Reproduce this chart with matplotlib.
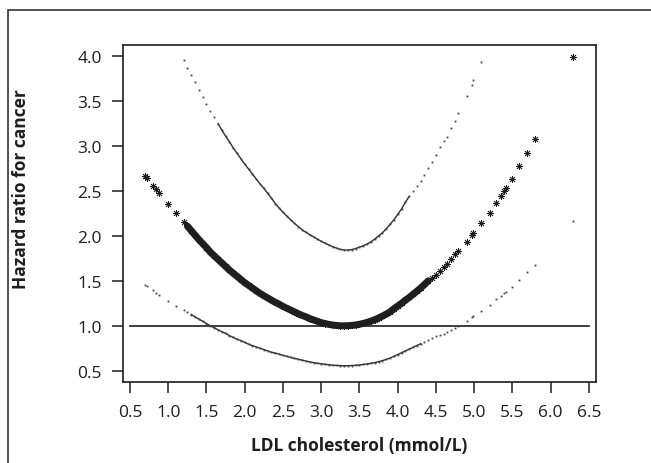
import numpy as np
import matplotlib
matplotlib.use("Agg")
import matplotlib.pyplot as plt
from matplotlib.patches import Rectangle

plt.rcParams['font.family'] = ['Open Sans', 'DejaVu Sans']

# LDL cholesterol values (mmol/L)
ldl = [0.70, 0.72, 0.80, 0.84, 0.88, 1.00, 1.10, 1.20,
       1.25, 1.30, 1.35, 1.40, 1.45, 1.50, 1.55, 1.60, 1.65, 1.70, 1.75, 1.80,
       1.85, 1.90, 1.95, 2.00, 2.05, 2.10, 2.15, 2.20, 2.25, 2.30, 2.35, 2.40,
       2.45, 2.50, 2.55, 2.60, 2.65, 2.70, 2.75, 2.80, 2.85, 2.90, 2.95, 3.00,
       3.05, 3.10, 3.15, 3.20, 3.25, 3.30, 3.35, 3.40, 3.45, 3.50, 3.55, 3.60,
       3.65, 3.70, 3.75, 3.80, 3.85, 3.90, 3.95, 4.00, 4.05, 4.10, 4.15, 4.20,
       4.25, 4.30, 4.35, 4.40, 4.45, 4.50, 4.55, 4.60, 4.64, 4.70, 4.75, 4.79,
       4.90, 4.97, 4.99, 5.09, 5.20, 5.29, 5.35, 5.39, 5.42, 5.49, 5.59, 5.69,
       5.79, 6.29]

# Hazard ratio (point estimate)
hr = [2.67, 2.65, 2.56, 2.52, 2.48, 2.355, 2.255, 2.16,
      2.11, 2.06, 2.01, 1.96, 1.915, 1.87, 1.82, 1.78, 1.74, 1.70, 1.66, 1.62,
      1.585, 1.55, 1.515, 1.48, 1.45, 1.42, 1.39, 1.36, 1.335, 1.31, 1.285, 1.26,
      1.24, 1.215, 1.195, 1.175, 1.155, 1.135, 1.115, 1.10, 1.08, 1.065, 1.05, 1.035,
      1.025, 1.015, 1.008, 1.003, 1.0, 1.0, 1.001, 1.004, 1.009, 1.017, 1.026, 1.038,
      1.052, 1.068, 1.087, 1.107, 1.130, 1.155, 1.190, 1.22, 1.25, 1.285, 1.315, 1.35,
      1.385, 1.42, 1.46, 1.50, 1.535, 1.57, 1.615, 1.655, 1.687, 1.743, 1.80, 1.835,
      1.935, 2.01, 2.03, 2.14, 2.255, 2.37, 2.44, 2.50, 2.53, 2.63, 2.775, 2.92,
      3.075, 3.99]

# Lower 95% CI
lower = [1.45, 1.44, 1.40, 1.37, 1.34, 1.28, 1.22, 1.175,
         1.15, 1.125, 1.10, 1.075, 1.05, 1.025, 1.0, 0.98, 0.955, 0.935, 0.915, 0.89,
         0.87, 0.85, 0.835, 0.815, 0.795, 0.78, 0.765, 0.75, 0.735, 0.72, 0.705, 0.695,
         0.685, 0.67, 0.66, 0.648, 0.637, 0.627, 0.617, 0.607, 0.598, 0.59, 0.583, 0.577,
         0.571, 0.566, 0.562, 0.558, 0.556, 0.555, 0.555, 0.557, 0.56, 0.564, 0.569, 0.575,
         0.582, 0.59, 0.60, 0.612, 0.625, 0.64, 0.66, 0.68, 0.70, 0.72, 0.74, 0.76,
         0.78, 0.80, 0.82, 0.845, 0.865, 0.885, 0.90, 0.91, 0.926, 0.955, 0.98, 0.993,
         1.056, 1.095, 1.105, 1.167, 1.23, 1.297, 1.334, 1.365, 1.38, 1.434, 1.512, 1.595,
         1.676, 2.17]

nan = float('nan')
# Upper 95% CI (nan = outside plotted range)
upper = [nan, nan, nan, nan, nan, nan, nan, 3.96,
         3.87, 3.79, 3.71, 3.63, 3.55, 3.47, 3.39, 3.32, 3.25, 3.18, 3.11, 3.05,
         2.98, 2.92, 2.86, 2.80, 2.745, 2.69, 2.635, 2.58, 2.53, 2.475, 2.42, 2.36,
         2.31, 2.265, 2.22, 2.18, 2.14, 2.105, 2.07, 2.04, 2.015, 1.99, 1.965, 1.94,
         1.92, 1.90, 1.88, 1.865, 1.85, 1.843, 1.843, 1.848, 1.86, 1.875, 1.89, 1.91,
         1.935, 1.965, 2.00, 2.035, 2.08, 2.13, 2.18, 2.24, 2.30, 2.375, 2.44, 2.50,
         2.56, 2.615, 2.675, 2.76, 2.82, 2.90, 2.99, 3.06, 3.10, 3.20, 3.28, 3.37,
         3.555, 3.68, 3.74, 3.94, nan, nan, nan, nan, nan, nan, nan, nan,
         nan, nan]

x_ticks = [0.5, 1.0, 1.5, 2.0, 2.5, 3.0, 3.5, 4.0, 4.5, 5.0, 5.5, 6.0, 6.5]
y_ticks = [0.5, 1.0, 1.5, 2.0, 2.5, 3.0, 3.5, 4.0]
ref_x = [0.5, 6.5]
ref_y = [1.0, 1.0]

x = np.array(ldl)
hr = np.array(hr)
lower = np.array(lower)
upper = np.array(upper)

W, H = 651, 464
fig = plt.figure(figsize=(W / 100, H / 100), dpi=100)
ax = fig.add_axes([122.7 / W, 1 - 383 / H, 473 / W, (383 - 45.7) / H])

ink = '#1e1e1e'
dense_lo = (x >= 1.3) & (x <= 4.3)
dense_up = (x >= 1.65) & (x <= 4.15)
dense_hr = (x >= 1.25) & (x <= 4.40)

# reference line
ax.plot(ref_x, ref_y, color=ink, lw=1.2, zorder=2)

# CI curves: thin continuous where data are dense, dots elsewhere
ax.plot(x[dense_lo], lower[dense_lo], color='#2e2e2e', lw=1.0, zorder=3)
ax.plot(x[dense_up], upper[dense_up], color='#2e2e2e', lw=1.0, zorder=3)
ax.plot(x, lower, linestyle='none', marker='s', ms=1.3, mew=0, color='#444444', zorder=3)
ax.plot(x, upper, linestyle='none', marker='s', ms=1.3, mew=0, color='#444444', zorder=3)

# point estimate: asterisks, dense band in the middle
ax.plot(x[dense_hr], hr[dense_hr], color=ink, lw=5.0, solid_capstyle='round', zorder=4)
ax.plot(x, hr, linestyle='none', marker=(8, 2, 0), ms=5.0, mew=0.6, color=ink, zorder=5)

ax.set_xlim(0.405, 6.588)
ax.set_ylim(0.374, 4.129)

ax.set_xticks(x_ticks)
ax.set_xticklabels([f"{v:.1f}" for v in x_ticks])
ax.set_yticks(y_ticks)
ax.set_yticklabels([f"{v:.1f}" for v in y_ticks])

for s in ax.spines.values():
    s.set_linewidth(1.2)
    s.set_color(ink)

ax.tick_params(axis='both', direction='out', length=8, width=1.1, color=ink,
               labelsize=12.5, labelcolor=ink)
ax.tick_params(axis='x', pad=8)
ax.tick_params(axis='y', pad=7)

ax.set_xlabel('LDL cholesterol (mmol/L)', fontsize=12.5, fontweight='bold', color=ink)
ax.xaxis.set_label_coords(0.5, -0.16)
ax.set_ylabel('Hazard ratio for cancer', fontsize=12.5, fontweight='bold', color=ink)
ax.yaxis.set_label_coords(-0.197, 0.574)

# outer frame
fig.patches.append(Rectangle((8 / W, -0.1), 1.2, 1.1 - 11 / H,
                             transform=fig.transFigure, fill=False,
                             edgecolor='#333333', lw=1.2))

fig.savefig('out.png', dpi=100)
